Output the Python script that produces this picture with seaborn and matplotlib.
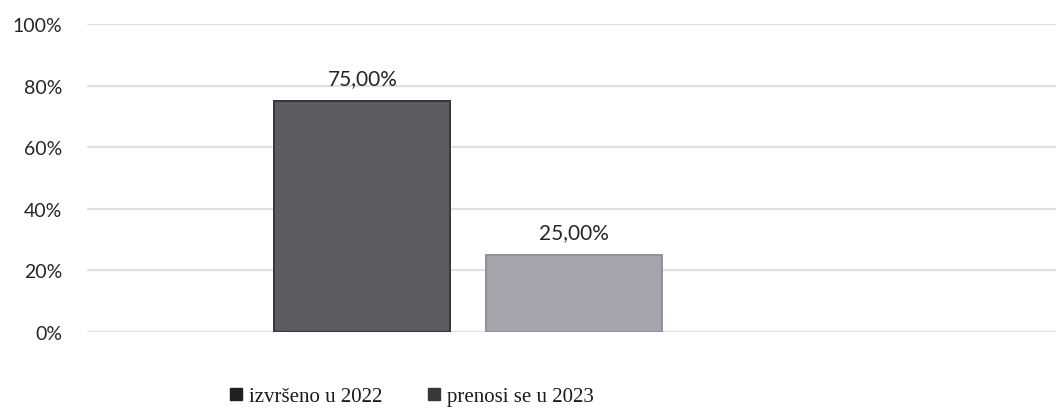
import pandas as pd
import matplotlib.pyplot as plt
import seaborn as sns
from matplotlib.patches import Patch

# Data
category = ["2022"]
series = ["izvršeno u 2022", "prenosi se u 2023"]
shares = [75.00, 25.00]
yticks = [0, 20, 40, 60, 80, 100]

df = pd.DataFrame({"cat": category * len(series), "serija": series, "udio": shares})

bar_colors = ["#5b5b63", "#a3a4ad"]
edge_colors = ["#36363a", "#8e8f98"]
legend_colors = ["#202020", "#383838"]

sns.set_theme(style="white")
plt.rcParams['font.family'] = ['Lato', 'DejaVu Sans']

fig = plt.figure(figsize=(10.56, 4.14), dpi=100)
ax = fig.add_axes([87 / 1056, 1 - 333 / 414, 1 - 87 / 1056, 308 / 414])

sns.barplot(data=df, x="cat", y="udio", hue="serija", palette=bar_colors,
            gap=0.17, width=0.8, legend=False, ax=ax)

for patch, ec in zip(ax.patches, edge_colors):
    patch.set_edgecolor(ec)
    patch.set_linewidth(1.4)

for cont in ax.containers:
    ax.bar_label(cont, labels=[f"{v:.2f}%".replace(".", ",") for v in cont.datavalues],
                 padding=9, fontsize=15, color="#262626")

#Axes
ax.set_ylim(0, 100)
ax.set_xlim(-0.72, 1.11)
ax.set_yticks(yticks)
ax.set_yticklabels([f"{t}%" for t in yticks], fontsize=14, color="#262626")
ax.tick_params(axis="y", length=0, pad=18)
ax.set_xticks([])
ax.set_xlabel("")
ax.set_ylabel("")
ax.yaxis.grid(True, color="#e0e0e0", linewidth=1.6)
ax.set_axisbelow(True)
sns.despine(ax=ax, left=True, bottom=True, top=True, right=True)

#Legend
handles = [Patch(facecolor=c, edgecolor=c) for c in legend_colors]
fig.legend(handles, series, loc="center", bbox_to_anchor=(412 / 1056, 1 - 398 / 414),
           ncol=2, frameon=False, handlelength=0.55, handleheight=0.55,
           handletextpad=0.35, columnspacing=2.2,
           prop={"family": "Liberation Serif", "size": 15})
for t in fig.legends[0].get_texts():
    t.set_color("#1a1a1a")

fig.savefig("out.png", dpi=100)
